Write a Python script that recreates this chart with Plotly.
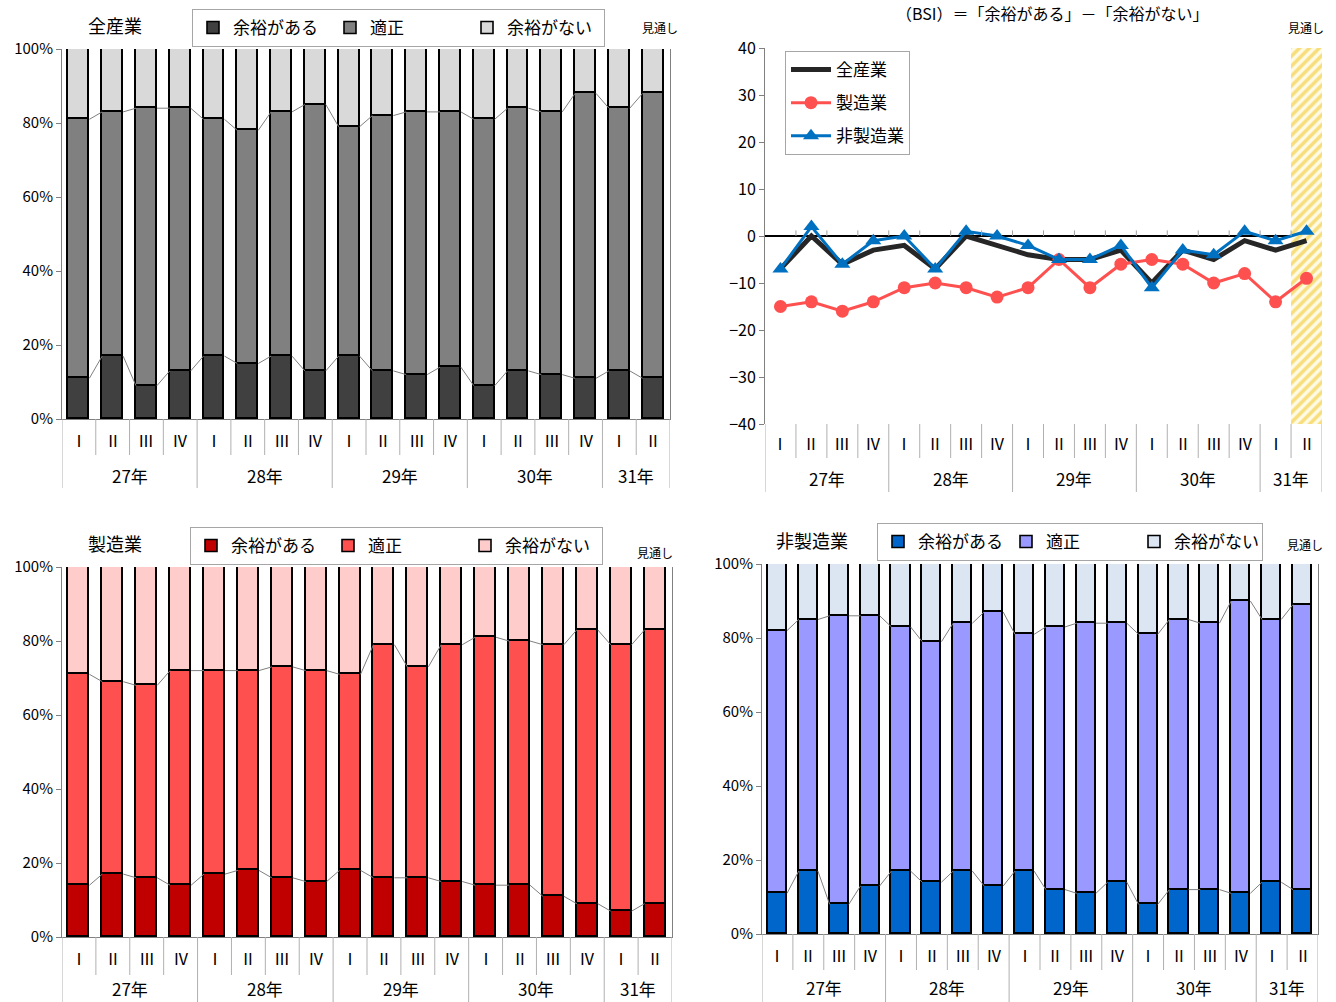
import plotly.graph_objects as go

W, H = 1336, 1002
FONT = "Noto Sans CJK JP"

# ---- category labels ----
quarters = ["Ⅰ", "Ⅱ", "Ⅲ", "Ⅳ"] * 4 + ["Ⅰ", "Ⅱ"]
years = ["27年", "28年", "29年", "30年", "31年"]
year_sizes = [4, 4, 4, 4, 2]
series_names = ["余裕がある", "適正", "余裕がない"]

# ---- 全産業 (%) ----
all_yes = [11, 17, 9, 13, 17, 15, 17, 13, 17, 13, 12, 14, 9, 13, 12, 11, 13, 11]
all_ok = [70, 66, 75, 71, 64, 63, 66, 72, 62, 69, 71, 69, 72, 71, 71, 77, 71, 77]
all_no = [19, 17, 16, 16, 19, 22, 17, 15, 21, 18, 17, 17, 19, 16, 17, 12, 16, 12]

# ---- 製造業 (%) ----
mfg_yes = [14, 17, 16, 14, 17, 18, 16, 15, 18, 16, 16, 15, 14, 14, 11, 9, 7, 9]
mfg_ok = [57, 52, 52, 58, 55, 54, 57, 57, 53, 63, 57, 64, 67, 66, 68, 74, 72, 74]
mfg_no = [29, 31, 32, 28, 28, 28, 27, 28, 29, 21, 27, 21, 19, 20, 21, 17, 21, 17]

# ---- 非製造業 (%) ----
non_yes = [11, 17, 8, 13, 17, 14, 17, 13, 17, 12, 11, 14, 8, 12, 12, 11, 14, 12]
non_ok = [71, 68, 78, 73, 66, 65, 67, 74, 64, 71, 73, 70, 73, 73, 72, 79, 71, 77]
non_no = [18, 15, 14, 14, 17, 21, 16, 13, 19, 17, 16, 16, 19, 15, 16, 10, 15, 11]

# ---- BSI ----
bsi_all = [-7, 0, -6, -3, -2, -7, 0, -2, -4, -5, -5, -3, -10, -3, -5, -1, -3, -1]
bsi_mfg = [-15, -14, -16, -14, -11, -10, -11, -13, -11, -5, -11, -6, -5, -6, -10, -8, -14, -9]
bsi_non = [-7, 2, -6, -1, 0, -7, 1, 0, -2, -5, -5, -2, -11, -3, -4, 1, -1, 1]
bsi_range = [-40, 40]
forecast_index = 17

N = len(quarters)
xs = list(range(N))
BAR_W = 0.62


def px(x):
    return x / W


def py(y):
    return 1 - y / H


fig = go.Figure()
shapes = []
annotations = []


def label(text, x, y, size, **kw):
    annotations.append(dict(text=text, x=x, y=y, showarrow=False, xanchor="center",
                            yanchor="middle", font=dict(size=size, family=FONT, color="#000"), **kw))


def add_category_labels(xa, ya, q_depth, y_depth, q_label, y_label):
    yref = f"{ya} domain"
    year_bounds = [-0.5]
    for s in year_sizes:
        year_bounds.append(year_bounds[-1] + s)
    for b in [i - 0.5 for i in range(N + 1)]:
        depth = y_depth if b in year_bounds else q_depth
        shapes.append(dict(type="line", xref=xa, yref=yref, x0=b, x1=b, y0=0, y1=-depth,
                           line=dict(color="#b0b0b0", width=1)))
    for i, q in enumerate(quarters):
        label(q, i, q_label, 16, xref=xa, yref=yref)
    for k, yr in enumerate(years):
        c = (year_bounds[k] + year_bounds[k + 1]) / 2
        label(yr, c, y_label, 17, xref=xa, yref=yref)


def bar_panel(n, yes, ok, no, colors, box, legend_pos, entry_w, title, title_pos, mitoshi_pos,
              q_depth, y_depth, y_label):
    xa = "x" if n == 1 else f"x{n}"
    ya = "y" if n == 1 else f"y{n}"
    lg = "legend" if n == 1 else f"legend{n}"
    left, top, right, bottom = box
    h = bottom - top
    for name, vals, col in zip(series_names, [yes, ok, no], colors):
        fig.add_trace(go.Bar(
            x=xs, y=vals, name=name, width=BAR_W, xaxis=xa, yaxis=ya, legend=lg,
            marker=dict(color=col, line=dict(color="#000000", width=1.6)),
            hoverinfo="skip",
        ))
    # series lines joining segment tops of neighbouring bars
    lvl1 = yes
    lvl2 = [a + b for a, b in zip(yes, ok)]
    for lvl in (lvl1, lvl2):
        lx, ly = [], []
        for i in range(N - 1):
            lx += [i + BAR_W / 2, i + 1 - BAR_W / 2, None]
            ly += [lvl[i], lvl[i + 1], None]
        fig.add_trace(go.Scatter(x=lx, y=ly, mode="lines", xaxis=xa, yaxis=ya,
                                 line=dict(color="#808080", width=1), showlegend=False,
                                 hoverinfo="skip"))
    fig.layout[f"xaxis{'' if n == 1 else n}"] = dict(
        domain=[px(left), px(right)], anchor=ya, range=[-0.5, N - 0.5], showticklabels=False,
        showgrid=False, zeroline=False, showline=True, linecolor="#808080", linewidth=1,
        ticks="", automargin=False)
    fig.layout[f"yaxis{'' if n == 1 else n}"] = dict(
        domain=[py(bottom), py(top)], anchor=xa, range=[0, 100], tickvals=[0, 20, 40, 60, 80, 100],
        ticktext=["0%", "20%", "40%", "60%", "80%", "100%"], showgrid=False, zeroline=False,
        showline=True, linecolor="#808080", linewidth=1, mirror=True, ticks="outside",
        ticklen=5, tickcolor="#808080", automargin=False,
        tickfont=dict(size=15, color="#000", family=FONT))
    fig.layout[lg] = dict(
        orientation="h", x=px(legend_pos[0]), y=py(legend_pos[1]), xanchor="left", yanchor="top",
        bordercolor="#a6a6a6", borderwidth=1, bgcolor="white", entrywidth=entry_w,
        entrywidthmode="pixels", itemwidth=30, font=dict(size=17, family=FONT, color="#000"),
        traceorder="normal", itemclick=False, itemdoubleclick=False)
    add_category_labels(xa, ya, q_depth / h, y_depth / h, -21 / h, -y_label / h)
    label(title, px(title_pos[0]), py(title_pos[1]), 18, xref="paper", yref="paper")
    label("見通し", px(mitoshi_pos[0]), py(mitoshi_pos[1]), 12, xref="paper", yref="paper")


# ---- 全産業 bars ----
bar_panel(1, all_yes, all_ok, all_no, ["#404040", "#808080", "#d9d9d9"],
          (62, 49, 670, 419), (192, 9), 92,
          "全産業", (115, 25), (660, 27), 36, 69, 56)

# ---- BSI line chart ----
fig.add_trace(go.Bar(
    x=[forecast_index], y=[bsi_range[1] - bsi_range[0]], base=[bsi_range[0]], width=1,
    xaxis="x2", yaxis="y2", showlegend=False, hoverinfo="skip",
    marker=dict(color="white", line=dict(width=0),
                pattern=dict(shape="/", fgcolor="#f0c010", bgcolor="#fffbe6", size=7, solidity=0.5)),
))
fig.add_trace(go.Scatter(x=xs, y=bsi_all, name="全産業", mode="lines", xaxis="x2", yaxis="y2",
                         legend="legend2", legendgroup="a",
                         line=dict(color="#262626", width=5), hoverinfo="skip"))
fig.add_trace(go.Scatter(x=xs, y=bsi_mfg, name="製造業", mode="lines+markers", xaxis="x2", yaxis="y2",
                         legend="legend2", legendgroup="b",
                         line=dict(color="#ff5050", width=3),
                         marker=dict(symbol="circle", size=13, color="#ff5050"), hoverinfo="skip"))
fig.add_trace(go.Scatter(x=xs, y=bsi_non, name="非製造業", mode="lines+markers", xaxis="x2", yaxis="y2",
                         legend="legend2", legendgroup="c",
                         line=dict(color="#0070c0", width=3),
                         marker=dict(symbol="triangle-up", size=14, color="#0070c0"), hoverinfo="skip"))
fig.layout["xaxis2"] = dict(domain=[px(765), px(1322)], anchor="y2", range=[-0.5, N - 0.5],
                            showticklabels=False, showgrid=False, zeroline=False, showline=False,
                            ticks="", automargin=False)
fig.layout["yaxis2"] = dict(domain=[py(424), py(48)], anchor="x2", range=bsi_range, dtick=10,
                            showgrid=False, zeroline=True, zerolinecolor="#000000", zerolinewidth=1.5,
                            showline=True, linecolor="#808080", linewidth=1, ticks="outside",
                            ticklen=5, tickcolor="#808080", automargin=False,
                            tickfont=dict(size=16, color="#000", family=FONT))
fig.layout["legend2"] = dict(x=px(785), y=py(51), xanchor="left", yanchor="top", orientation="v",
                             bordercolor="#a6a6a6", borderwidth=1, bgcolor="white",
                             tracegroupgap=8, itemwidth=40,
                             font=dict(size=17, family=FONT, color="#000"),
                             itemclick=False, itemdoubleclick=False)
# small tick marks along the zero line
for b in [i - 0.5 for i in range(1, N)]:
    shapes.append(dict(type="line", xref="x2", yref="y2", x0=b, x1=b, y0=0, y1=1.2,
                       line=dict(color="#a0a0a0", width=1)))
add_category_labels("x2", "y2", 34 / 376, 68 / 376, -19 / 376, -54 / 376)
label("（BSI）＝「余裕がある」－「余裕がない」", px(1052), py(13), 16, xref="paper", yref="paper")
label("見通し", px(1306), py(27), 12, xref="paper", yref="paper")

# ---- 製造業 bars ----
bar_panel(3, mfg_yes, mfg_ok, mfg_no, ["#c00000", "#ff5050", "#ffcccc"],
          (62, 567, 672, 937), (190, 527), 92,
          "製造業", (115, 543), (655, 552), 38, 70, 51)

# ---- 非製造業 bars ----
bar_panel(4, non_yes, non_ok, non_no, ["#0066cc", "#9999ff", "#dce6f2"],
          (762, 564, 1318, 934), (877, 523), 83,
          "非製造業", (812, 540), (1305, 544), 36, 70, 53)

fig.update_layout(
    width=W, height=H, margin=dict(l=0, r=0, t=0, b=0, autoexpand=False),
    paper_bgcolor="white", plot_bgcolor="white", barmode="stack", bargap=0,
    font=dict(family=FONT, color="#000"),
    shapes=shapes, annotations=annotations, hovermode=False,
)

fig.write_html("out.html")
